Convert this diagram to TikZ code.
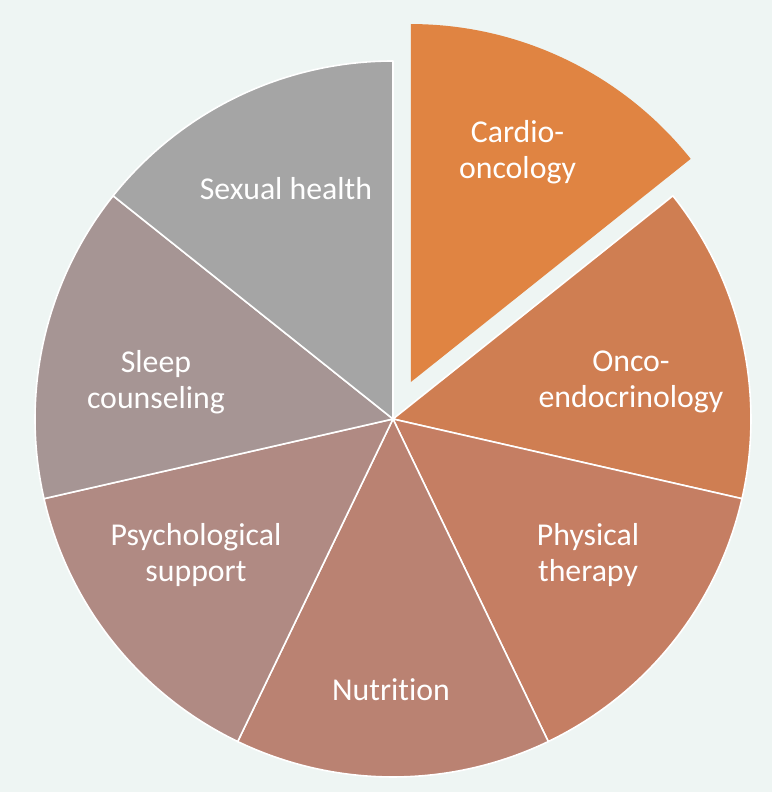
\documentclass[tikz,border=0pt]{standalone}
\usepackage{fontspec}
\setmainfont{Carlito}[Ligatures=NoCommon]
\usetikzlibrary{positioning}

\definecolor{bgmint}{HTML}{EEF5F3}
\definecolor{cCardio}{HTML}{E08442}
\definecolor{cOnco}{HTML}{CF7E52}
\definecolor{cPhys}{HTML}{C57E63}
\definecolor{cNutri}{HTML}{BA8272}
\definecolor{cPsych}{HTML}{B08A83}
\definecolor{cSleep}{HTML}{A69594}
\definecolor{cSex}{HTML}{A5A5A5}

\begin{document}
\begin{tikzpicture}[
    x=1pt, y=1pt,
    slice/.style={draw=white, line width=1.6pt, line join=round},
    lbl/.style={text=white, align=center, font=\fontsize{31.8}{36}\selectfont}
]
    % background and page size
    \fill[bgmint] (-393,-373) rectangle (379,419);
    \useasboundingbox (-393,-373) rectangle (379,419);

    % pie slices, 360/7 degrees each
    \filldraw[slice, fill=cOnco] (0,0) -- (38.57:358) arc[start angle=38.57, end angle=-12.86, radius=358] -- cycle;
    \filldraw[slice, fill=cPhys] (0,0) -- (-12.86:358) arc[start angle=-12.86, end angle=-64.29, radius=358] -- cycle;
    \filldraw[slice, fill=cNutri] (0,0) -- (-64.29:358) arc[start angle=-64.29, end angle=-115.71, radius=358] -- cycle;
    \filldraw[slice, fill=cPsych] (0,0) -- (-115.71:358) arc[start angle=-115.71, end angle=-167.14, radius=358] -- cycle;
    \filldraw[slice, fill=cSleep] (0,0) -- (-167.14:358) arc[start angle=-167.14, end angle=-218.57, radius=358] -- cycle;
    \filldraw[slice, fill=cSex] (0,0) -- (141.43:358) arc[start angle=141.43, end angle=90, radius=358] -- cycle;

    % exploded slice
    \begin{scope}[shift={(64.29:41)}]
        \fill[cCardio] (0,0) -- (90:358) arc[start angle=90, end angle=38.57, radius=358] -- cycle;
    \end{scope}

    % labels
    \node[lbl] (cardio) at (124.5,267) {Cardio-\\oncology};
    \node[lbl] (onco) at (238,37) {Onco-\\endocrinology};
    \node[lbl] (phys) at (195,-136) {Physical\\therapy};
    \node[lbl] (nutri) at (-2,-271) {Nutrition};
    \node[lbl] (psych) at (-197,-136) {Psychological\\support};
    \node[lbl] (sleep) at (-237,37) {Sleep\\counseling};
    \node[lbl] (sex) at (-107,230) {Sexual health};
\end{tikzpicture}
\end{document}
